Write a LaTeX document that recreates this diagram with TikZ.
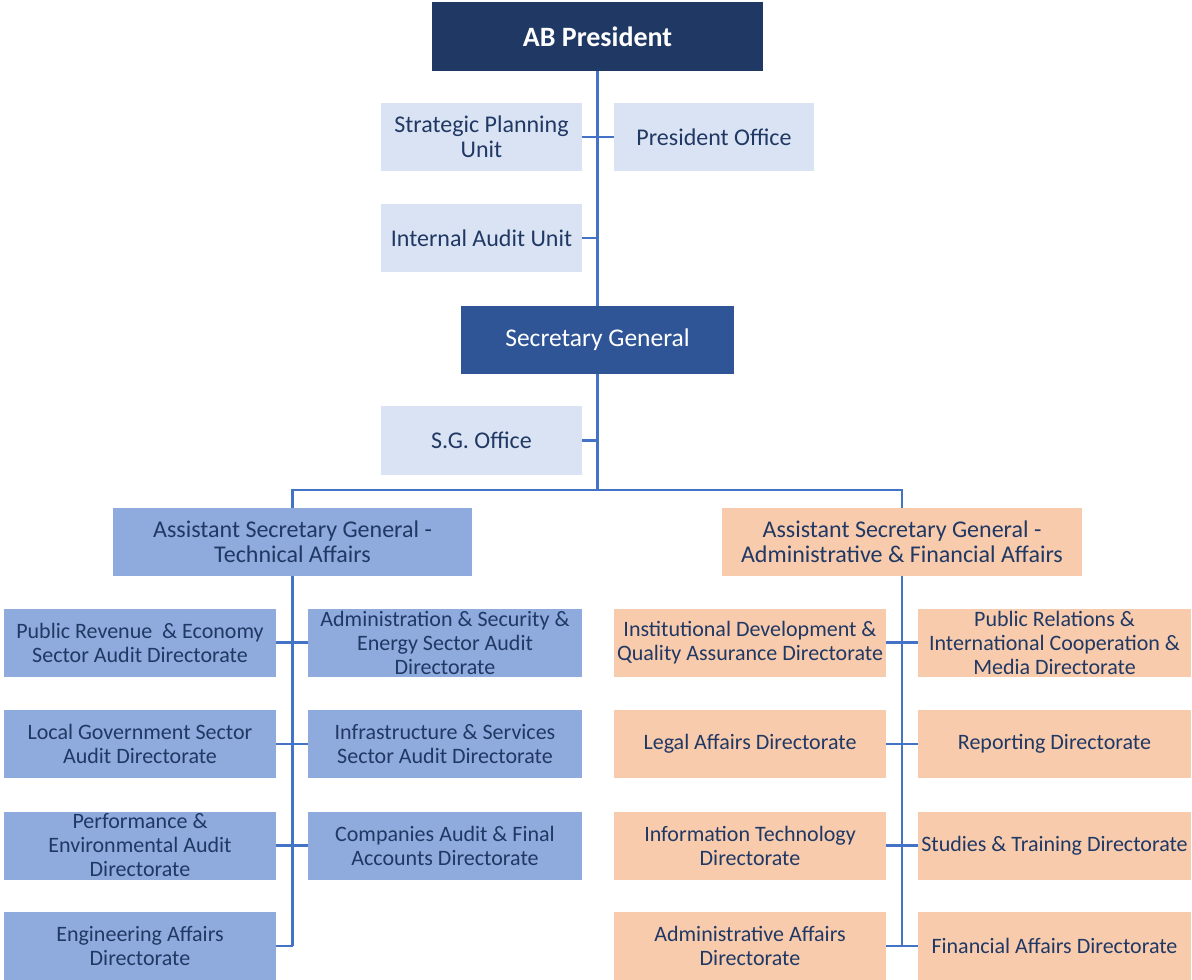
\documentclass[tikz,border=0pt]{standalone}
\usepackage{fontspec}
\setmainfont{Carlito}
\definecolor{navy}{HTML}{203864}
\definecolor{sgblue}{HTML}{2F5597}
\definecolor{lightblue}{HTML}{DAE3F3}
\definecolor{techblue}{HTML}{8FAADC}
\definecolor{peach}{HTML}{F8CBAD}
\definecolor{txtblue}{HTML}{203864}
\definecolor{lineblue}{HTML}{4472C4}
\tikzset{
  box/.style={rectangle, inner sep=0pt, align=center, text=txtblue, font=\fontsize{24}{25}\selectfont},
  unitbox/.style={box, fill=lightblue, minimum width=201pt, minimum height=68pt},
  headbox/.style={box, text=white, minimum height=68pt},
  asgbox/.style={box, minimum width=360pt, minimum height=68pt},
  dirbox/.style={box, minimum width=272pt, minimum height=68pt, font=\fontsize{22}{24}\selectfont},
  techdir/.style={dirbox, fill=techblue},
  admindir/.style={dirbox, fill=peach},
  link/.style={draw=lineblue, line width=2.2pt}
}
\begin{document}
\begin{tikzpicture}[x=1pt, y=-1pt]
	\useasboundingbox (0,0) rectangle (1192,980);

	% top level
	\node[headbox, fill=navy, minimum width=331pt, minimum height=69pt, font=\fontsize{28}{30}\selectfont\bfseries](president) at (597.5,36.5){AB President};
	\node[unitbox](planning) at (481.5,137){Strategic Planning\\Unit};
	\node[unitbox, minimum width=200pt](presoffice) at (714,137){President Office};
	\node[unitbox](audit) at (481.5,238){Internal Audit Unit};

	\node[headbox, fill=sgblue, minimum width=273pt, font=\fontsize{25.5}{27}\selectfont](secgen) at (597.5,340){Secretary General};
	\node[unitbox, minimum height=69pt](sgoffice) at (481.5,440.5){S.G. Office};

	\node[asgbox, fill=techblue, minimum width=359pt](asgtech) at (292.5,542){Assistant Secretary General -\\Technical Affairs};
	\node[asgbox, fill=peach](asgadmin) at (902,542){Assistant Secretary General -\\Administrative \& Financial Affairs};

	% technical affairs directorates
	\node[techdir](revenue) at (140,642.5){Public Revenue \ \& Economy\\Sector Audit Directorate};
	\node[techdir, minimum width=274pt](security) at (445,642.5){Administration \& Security \&\\Energy Sector Audit\\Directorate};
	\node[techdir](localgov) at (140,744){Local Government Sector\\Audit Directorate};
	\node[techdir, minimum width=274pt](infra) at (445,744){Infrastructure \& Services\\Sector Audit Directorate};
	\node[techdir](perform) at (140,845.5){Performance \&\\Environmental Audit\\Directorate};
	\node[techdir, minimum width=274pt](companies) at (445,845.5){Companies Audit \& Final\\Accounts Directorate};
	\node[techdir](engineer) at (140,946){Engineering Affairs\\Directorate};

	% administrative & financial directorates
	\node[admindir](institut) at (750,642.5){Institutional Development \&\\Quality Assurance Directorate};
	\node[admindir, minimum width=273pt](relations) at (1054.5,642.5){Public Relations \&\\International Cooperation \&\\Media Directorate};
	\node[admindir](legal) at (750,744){Legal Affairs Directorate};
	\node[admindir, minimum width=273pt](reporting) at (1054.5,744){Reporting Directorate};
	\node[admindir](infotech) at (750,845.5){Information Technology\\Directorate};
	\node[admindir, minimum width=273pt](studies) at (1054.5,845.5){Studies \& Training Directorate};
	\node[admindir](adminaff) at (750,946){Administrative Affairs\\Directorate};
	\node[admindir, minimum width=273pt](financial) at (1054.5,946){Financial Affairs Directorate};

	\coordinate (split) at (597.5,490);

	% main trunk
	\draw[link] (president.south) -- (secgen.north);
	\draw[link] (planning.east) -- (presoffice.west);
	\draw[link] (audit.east) -- (audit.east -| president.south);
	\draw[link] (secgen.south) -- (split);
	\draw[link] (sgoffice.east) -- (sgoffice.east -| secgen.south);
	\draw[link] (split) -| (asgtech.north);
	\draw[link] (split) -| (asgadmin.north);

	% technical branch
	\draw[link] (asgtech.south) -- (asgtech.south |- engineer.east);
	\draw[link] (revenue.east) -- (security.west);
	\draw[link] (localgov.east) -- (infra.west);
	\draw[link] (perform.east) -- (companies.west);
	\draw[link] (engineer.east) -- (engineer.east -| asgtech.south);

	% administrative branch
	\draw[link] (asgadmin.south) -- (asgadmin.south |- adminaff.east);
	\draw[link] (institut.east) -- (relations.west);
	\draw[link] (legal.east) -- (reporting.west);
	\draw[link] (infotech.east) -- (studies.west);
	\draw[link] (adminaff.east) -- (financial.west);

\end{tikzpicture}
\end{document}
